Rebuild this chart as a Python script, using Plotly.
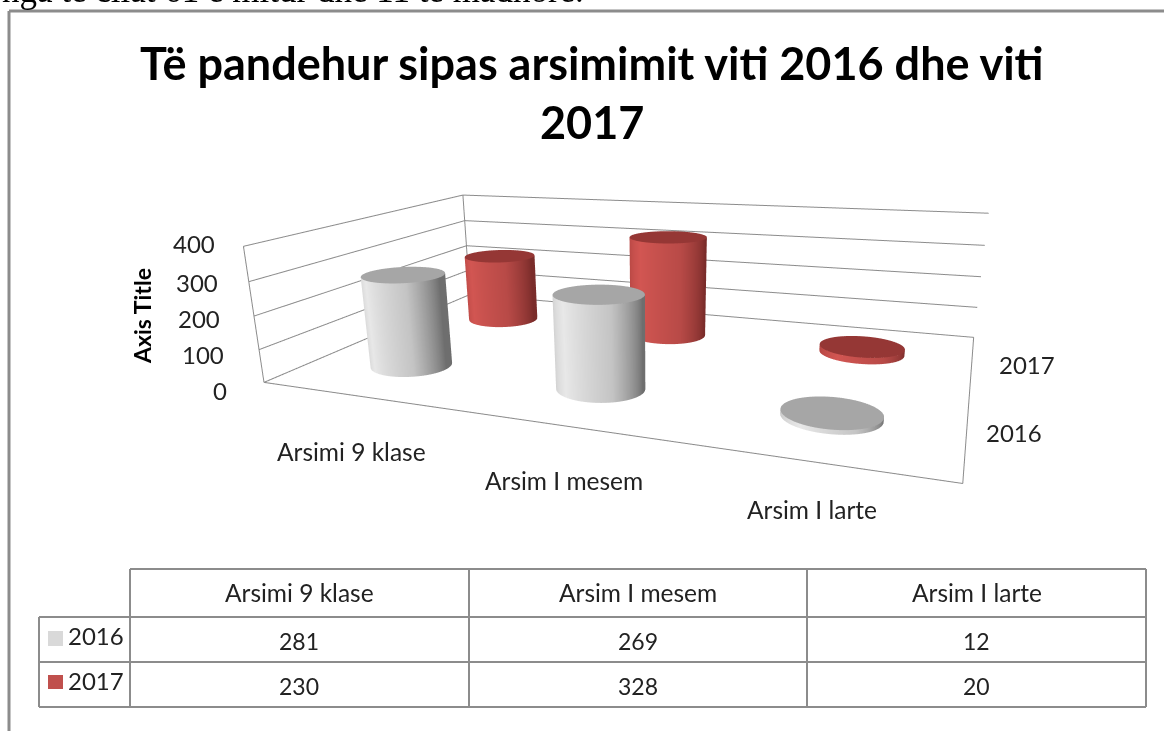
import numpy as np
import plotly.graph_objects as go

categories = ["Arsimi 9 klase", "Arsim I mesem", "Arsim I larte"]
years = ["2016", "2017"]
v2016 = [281, 269, 12]
v2017 = [230, 328, 20]
z_ticks = [0, 100, 200, 300, 400]
title_lines = ["Të pandehur sipas arsimimit viti 2016 dhe viti", "2017"]

XR = (-0.5, 2.5); YR = (-0.5, 1.5); ZR = (0, 400)
W, H = 1164, 731

GRAY=[[0,'#BEBEBE'],[.35,'#E8E8E8'],[.7,'#C4C4C4'],[1,'#6E6E6E']]
RED=[[0,'#A83F3C'],[.35,'#D25652'],[.7,'#B84A47'],[1,'#7A2C2A']]
LIT=dict(ambient=1,diffuse=0,specular=0,roughness=1,fresnel=0)
R=0.2
th=np.linspace(0,2*np.pi,97)
def cyl(cx,cy,v,cs,top):
    tr=[]
    X=np.array([cx+R*np.cos(th)]*2); Y=np.array([cy+R*np.sin(th)]*2)
    Z=np.array([np.zeros_like(th),np.full_like(th,v)])
    a=np.arctan2(np.cos(th),-np.sin(th))
    S=np.clip((a+np.pi/2)/np.pi,0,1); S=np.array([S,S])
    tr.append(go.Surface(x=X,y=Y,z=Z,surfacecolor=S,colorscale=cs,cmin=0,cmax=1,showscale=False,lighting=LIT,hoverinfo='skip'))
    rho=np.array([0,1.0])
    X2=cx+R*np.outer(rho,np.cos(th)); Y2=cy+R*np.outer(rho,np.sin(th)); Z2=np.full_like(X2,v)
    tr.append(go.Surface(x=X2,y=Y2,z=Z2,surfacecolor=np.zeros_like(X2),colorscale=[[0,top],[1,top]],cmin=0,cmax=1,showscale=False,lighting=LIT,hoverinfo='skip'))
    return tr

fig=go.Figure()
LC='#8C8C8C'
def line(xs,ys,zs,w=2):
    fig.add_trace(go.Scatter3d(x=xs,y=ys,z=zs,mode='lines',line=dict(color=LC,width=w),hoverinfo='skip',showlegend=False))
for z in z_ticks:
    line([XR[0],XR[0],XR[1]],[YR[0],YR[1],YR[1]],[z,z,z])
line([XR[0],XR[0]],[YR[0],YR[0]],list(ZR))
line([XR[0],XR[0]],[YR[1],YR[1]],list(ZR))
line([XR[0],XR[1],XR[1]],[YR[0],YR[0],YR[1]],[0,0,0])
for i,v in enumerate(v2017):
    for t in cyl(i,1,v,RED,'#953735'): fig.add_trace(t)
for i,v in enumerate(v2016):
    for t in cyl(i,0,v,GRAY,'#A6A6A6'): fig.add_trace(t)

FONT="Lato"; TC='#222222'
axis=dict(showgrid=False,showbackground=False,showline=False,zeroline=False,showticklabels=False,showspikes=False,title=dict(text=''),ticks='')
pad=0.002
def padr(r):
    d=(r[1]-r[0])*pad
    return [r[0]-d,r[1]+d]
# camera fitted to the reference's projection
p=[0.9616,-2.5130,0.6490,-0.1129,-0.0650,-0.2430,0.6077,0.2113,0.0272,-0.0091,0.9860,597.5414,370.6231]
cy=1-p[12]/H; h=p[10]; cxf=p[11]/W; wd=min(cxf,1-cxf)
cl=lambda v: float(min(1,max(0,v)))
scene=dict(domain=dict(x=[cl(cxf-wd),cl(cxf+wd)],y=[cl(cy-h/2),cl(cy+h/2)]),dragmode='orbit',
  xaxis=dict(axis,range=padr(XR)),yaxis=dict(axis,range=padr(YR)),zaxis=dict(axis,range=padr(ZR)),
  aspectmode='manual',aspectratio=dict(x=1,y=p[6],z=p[7]),
  camera=dict(eye=dict(x=p[0]/2,y=p[1]/2,z=p[2]/2),center=dict(x=p[3]/2,y=p[4]/2,z=p[5]/2),up=dict(x=p[8],y=p[9],z=1)))

def pa(x,y,text,**k):
    d=dict(xref='paper',yref='paper',x=x/W,y=1-y/H,text=text,showarrow=False,xanchor='center',yanchor='middle')
    d.update(k); return d
ann=[pa(592,63,"<b>"+title_lines[0]+"</b>",font=dict(family=FONT,size=45,color='#000000')),
     pa(592,122,"<b>"+title_lines[1]+"</b>",font=dict(family=FONT,size=45,color='#000000')),
     pa(142,316,"<b>Axis Title</b>",textangle=-90,font=dict(family=FONT,size=23,color='#000000')),
     pa(0,12,"nga te cilat 61 e mitur dhe 11 te madhore.",xanchor='left',yanchor='bottom',font=dict(family="Liberation Serif",size=35,color='#000000'))]
tick_x=[229,226,222,220,217]; tick_y=[390,354,319,282,244]
for z,tx,ty in zip(z_ticks,tick_x,tick_y):
    ann.append(pa(tx,ty,str(z),xanchor='right',font=dict(family=FONT,size=24,color=TC)))
for c,(x,y) in zip(categories,[(351,451),(564,480),(812,509)]):
    ann.append(pa(x,y,c,font=dict(family=FONT,size=24.5,color=TC)))
for yy,(x,y) in zip(years,[(1014,432),(1027,364)]):
    ann.append(pa(x,y,yy,font=dict(family=FONT,size=24,color=TC)))
colx=[130,469,807,1146]
for i,c in enumerate(categories):
    cx=(colx[i]+colx[i+1])/2
    ann.append(pa(cx,592,c,font=dict(family=FONT,size=24.5,color=TC)))
    ann.append(pa(cx,641,str(v2016[i]),font=dict(family=FONT,size=23,color=TC)))
    ann.append(pa(cx,686,str(v2017[i]),font=dict(family=FONT,size=23,color=TC)))
ann.append(pa(66,635,years[0],xanchor='left',font=dict(family=FONT,size=24,color=TC)))
ann.append(pa(66,680,years[1],xanchor='left',font=dict(family=FONT,size=24,color=TC)))
shapes=[]
def sl(x0,y0,x1,y1,w=2,c='#8C8C8C'):
    shapes.append(dict(type='line',xref='paper',yref='paper',x0=x0/W,x1=x1/W,y0=1-y0/H,y1=1-y1/H,line=dict(color=c,width=w)))
sl(9,731,9,11,3); sl(9,11,1164,11,3)
sl(130,569,1146,569); sl(39,617,1146,617); sl(39,662,1146,662); sl(39,707,1146,707)
for x in colx: sl(x,569,x,707)
sl(39,617,39,707)
def sq(x0,y0,x1,y1,c):
    shapes.append(dict(type='rect',xref='paper',yref='paper',x0=x0/W,x1=x1/W,y0=1-y0/H,y1=1-y1/H,fillcolor=c,line=dict(width=0)))
sq(48,631,63,646,'#D9D9D9'); sq(48,675,63,689,'#C0504D')
fig.update_layout(width=W,height=H,margin=dict(l=0,r=0,t=0,b=0),paper_bgcolor='white',showlegend=False,scene=scene,annotations=ann,shapes=shapes)
fig.write_html("out.html",config=dict(displayModeBar=False),post_script="document.body.style.margin='0';document.body.style.overflow='hidden';")
